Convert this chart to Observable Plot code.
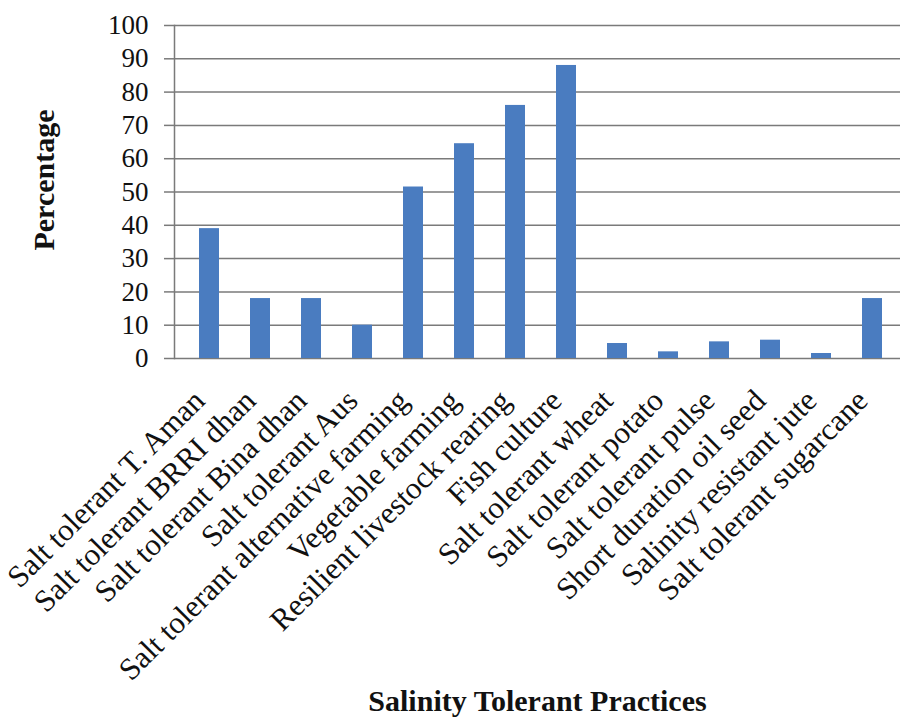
<!DOCTYPE html>
<html>
<head>
<meta charset="utf-8">
<script src="https://cdn.jsdelivr.net/npm/d3@7"></script>
<script src="https://cdn.jsdelivr.net/npm/@observablehq/plot@0.6"></script>
<style>
  html, body { margin: 0; padding: 0; background: #fff; }
  #chart svg { display: block; }
</style>
</head>
<body>
<div id="chart"></div>
<script>
const categories = [
  "Salt tolerant T. Aman",
  "Salt tolerant BRRI dhan",
  "Salt tolerant Bina dhan",
  "Salt tolerant Aus",
  "Salt tolerant alternative farming",
  "Vegetable farming",
  "Resilient livestock rearing",
  "Fish culture",
  "Salt tolerant wheat",
  "Salt tolerant potato",
  "Salt tolerant pulse",
  "Short duration oil seed",
  "Salinity resistant jute",
  "Salt tolerant sugarcane"
];
const percentages = [39, 18, 18, 10, 51.5, 64.5, 76, 88, 4.5, 2, 5, 5.5, 1.5, 18];
const yTicks = [0, 10, 20, 30, 40, 50, 60, 70, 80, 90, 100];
const xTitle = "Salinity Tolerant Practices";
const yTitle = "Percentage";

const data = categories.map((c, i) => ({category: c, value: percentages[i]}));

const chart = Plot.plot({
  width: 900,
  height: 719,
  marginLeft: 174,
  marginRight: 0,
  marginTop: 25,
  marginBottom: 361,
  style: {background: "#fff", fontFamily: "'Liberation Serif', 'Times New Roman', serif", color: "#111"},
  x: {domain: categories, range: [177, 904], paddingInner: 0.61, paddingOuter: 0.305},
  y: {domain: [0, 100]},
  marks: [
    Plot.gridY(yTicks, {stroke: "#7a7a7a", strokeOpacity: 1, strokeWidth: 1.5}),
    Plot.frame({anchor: "left", stroke: "#7a7a7a", strokeWidth: 1.5}),
    Plot.barY(data, {x: "category", y: "value", fill: "#4a7cc0"}),
    Plot.axisY(yTicks, {
      label: null, tickSize: 10, tickPadding: 16, fontSize: 27,
      stroke: "#7a7a7a", strokeWidth: 1.5, fill: "#111"
    }),
    Plot.axisX({
      label: null, tickSize: 0, tickPadding: 37, dx: -10, tickRotate: -45, fontSize: 31, fill: "#111"
    }),
    Plot.text([yTitle], {
      text: d => d, frameAnchor: "left", textAnchor: "middle", rotate: -90, dx: -130, dy: -12,
      fontSize: 30, fontWeight: "bold", fill: "#111"
    }),
    Plot.text([xTitle], {
      text: d => d, frameAnchor: "bottom", dy: 352,
      fontSize: 30, fontWeight: "bold", fill: "#111"
    })
  ]
});
document.getElementById("chart").append(chart);
</script>
</body>
</html>
